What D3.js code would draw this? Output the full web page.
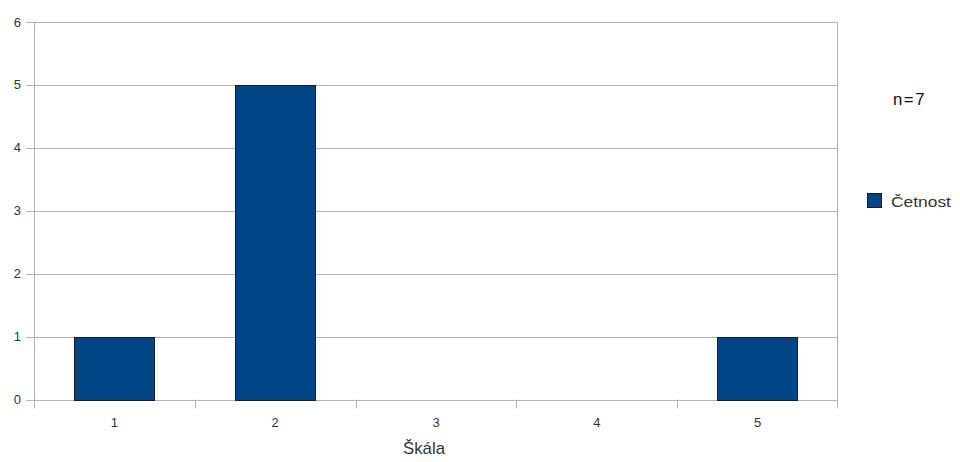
<!DOCTYPE html>
<html>
<head>
<meta charset="utf-8">
<script src="https://cdn.jsdelivr.net/npm/d3@7"></script>
<style>
  body { margin: 0; background: #fff; }
  svg { display: block; }
  text { font-family: "Liberation Sans", Arial, sans-serif; }
</style>
</head>
<body>
<svg id="chart" width="960" height="462"></svg>
<script>
// Frequency of answers on the 1–5 scale
const categories = ["1", "2", "3", "4", "5"];
const counts = [1, 5, 0, 0, 1];
const yTicks = [0, 1, 2, 3, 4, 5, 6];
const seriesName = "Četnost";
const xTitle = "Škála";
const note = "n=7";

const svg = d3.select("#chart");
const plotLeft = 34, plotRight = 838, plotTop = 22, plotBottom = 399.5;

const x = d3.scaleBand().domain(categories).range([plotLeft, plotRight]).paddingInner(0.5).paddingOuter(0.25);
const xOuter = d3.scaleBand().domain(categories).range([plotLeft, plotRight]);
const y = d3.scaleLinear().domain([0, 6]).range([plotBottom, plotTop]);

const gridColor = "#b3b3b3";

// text drawn slightly widened around its anchor point
function wideText(sel, px, py, sx) {
  return sel.attr("transform", `translate(${px},${py}) scale(${sx},1)`);
}

// horizontal gridlines
svg.append("g").selectAll("line").data(yTicks).join("line")
  .attr("x1", plotLeft - 8).attr("x2", plotRight)
  .attr("y1", d => Math.round(y(d)) + 0.5).attr("y2", d => Math.round(y(d)) + 0.5)
  .attr("stroke", gridColor).attr("stroke-width", 1);

// left axis line and right frame edge
svg.append("line").attr("x1", plotLeft + 0.5).attr("x2", plotLeft + 0.5)
  .attr("y1", plotTop).attr("y2", plotBottom + 9).attr("stroke", gridColor);
svg.append("line").attr("x1", plotRight - 0.5).attr("x2", plotRight - 0.5)
  .attr("y1", plotTop).attr("y2", plotBottom + 9).attr("stroke", gridColor);

// category separators below the baseline
const sepPositions = categories.map(c => xOuter(c)).slice(1);
svg.append("g").selectAll("line").data(sepPositions).join("line")
  .attr("x1", d => Math.round(d) + 0.5).attr("x2", d => Math.round(d) + 0.5)
  .attr("y1", plotBottom).attr("y2", plotBottom + 9)
  .attr("stroke", gridColor);

// y tick labels
svg.append("g").selectAll("text").data(yTicks).join("text")
  .attr("x", 21).attr("y", d => y(d))
  .attr("dy", "0.35em").attr("text-anchor", "end")
  .attr("font-size", 13).attr("fill", "#333")
  .text(d => d);

// x tick labels
svg.append("g").selectAll("text").data(categories).join("text")
  .attr("x", d => xOuter(d) + xOuter.bandwidth() / 2).attr("y", 427)
  .attr("text-anchor", "middle")
  .attr("font-size", 13).attr("fill", "#333")
  .text(d => d);

// bars
svg.append("g").selectAll("rect").data(categories.map((c, i) => ({ c, v: counts[i] })).filter(d => d.v > 0))
  .join("rect")
  .attr("x", d => Math.round(x(d.c)) + 0.5)
  .attr("y", d => Math.round(y(d.v)) + 0.5)
  .attr("width", Math.round(x.bandwidth()))
  .attr("height", d => Math.round(y(0)) - Math.round(y(d.v)))
  .attr("fill", "#004586")
  .attr("stroke", "#1a1a1a").attr("stroke-width", 1);

// axis title
wideText(svg.append("text"), 424, 454, 1.05)
  .attr("text-anchor", "middle").attr("font-size", 16).attr("fill", "#333")
  .text(xTitle);

// sample size note
wideText(svg.append("text"), 909.5, 105, 1.05)
  .attr("text-anchor", "middle").attr("font-size", 16).attr("fill", "#111")
  .attr("letter-spacing", 1.5)
  .text(note);

// legend
svg.append("rect").attr("x", 867.5).attr("y", 193.5).attr("width", 14).attr("height", 14)
  .attr("fill", "#004586").attr("stroke", "#1a1a1a");
wideText(svg.append("text"), 891, 206.5, 1.16)
  .attr("font-size", 15).attr("fill", "#333")
  .text(seriesName);
</script>
</body>
</html>
